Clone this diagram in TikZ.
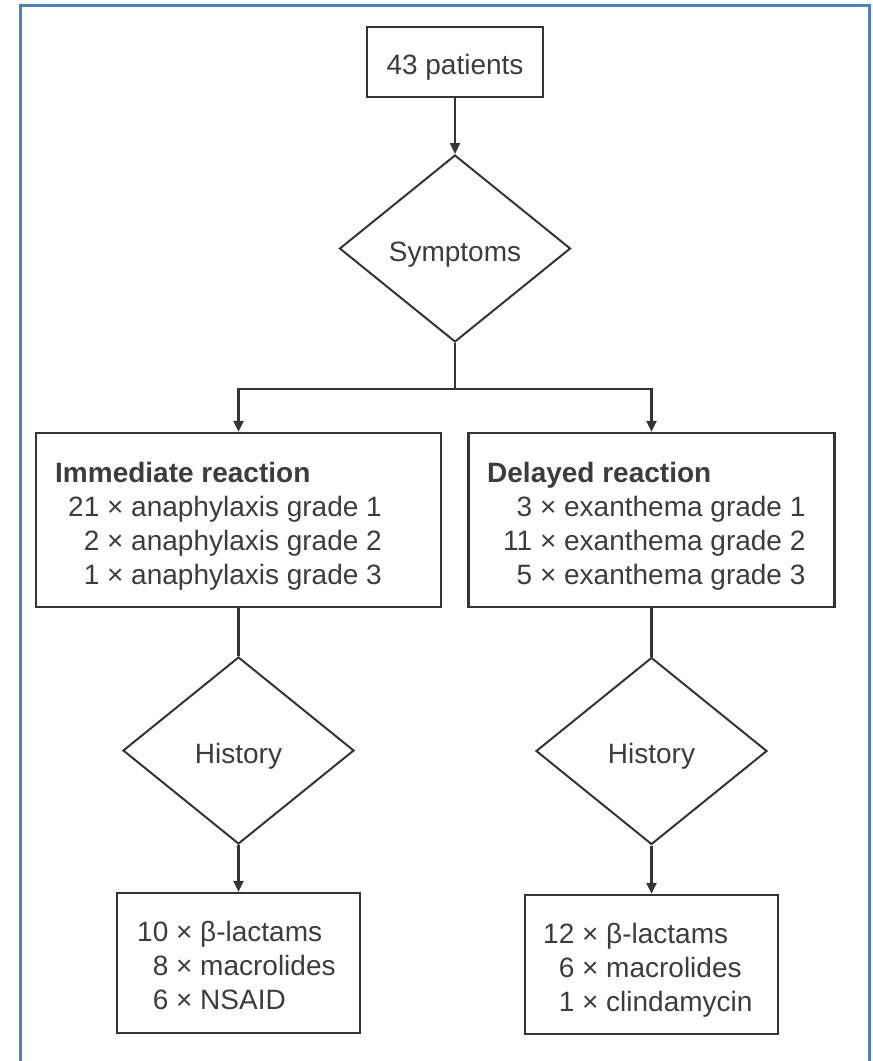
\documentclass[tikz,border=0pt]{standalone}
\usepackage{fontspec}
\setmainfont{Liberation Sans}
\usetikzlibrary{shapes.geometric,arrows.meta}
\definecolor{framecol}{RGB}{79,129,189}
\definecolor{ink}{RGB}{52,52,52}
\definecolor{textink}{RGB}{60,60,60}
\begin{document}
\begin{tikzpicture}[x=1pt,y=-1pt,
  every node/.style={font=\fontsize{28}{34}\selectfont, text=textink, inner sep=0pt},
  capcentred/.style={text height=25pt, text depth=0pt},
  box/.style={draw=ink, line width=2.2pt, rectangle},
  decision/.style={draw=ink, line width=2pt, diamond, capcentred,
                   minimum width=231pt, minimum height=187pt},
  link/.style={draw=ink, line width=2.2pt},
  arrowlink/.style={link, -{Triangle[length=11pt,width=10pt]}},
]
\useasboundingbox (0,0) rectangle (873,1061);
% outer frame (open at the bottom edge of the page)
\draw[framecol, line width=3pt] (20.5,1064) -- (20.5,5.5) -- (869,5.5) -- (869,1064);

% top of the chart
\node[box, capcentred, minimum width=176pt, minimum height=70pt] (patients) at (455,62) {43 patients};
\node[decision] (symptoms) at (455,248.5) {Symptoms};
\coordinate (split) at (455,389);

% reaction boxes
\node[box, minimum width=405pt, minimum height=174pt] (imm) at (238.5,520) {};
\node[anchor=west] (immtext) at (55,527) {%
  \begin{tabular}{@{\hspace{13pt}}r@{ × }l@{}}
    \multicolumn{2}{@{}l@{}}{\textbf{Immediate reaction}}\\
    21 & anaphylaxis grade 1\\
    2 & anaphylaxis grade 2\\
    1 & anaphylaxis grade 3
  \end{tabular}};
\node[box, minimum width=366pt, minimum height=174pt] (del) at (651.5,520) {};
\node[anchor=west] (deltext) at (487,527) {%
  \begin{tabular}{@{\hspace{16pt}}r@{ × }l@{}}
    \multicolumn{2}{@{}l@{}}{\textbf{Delayed reaction}}\\
    3 & exanthema grade 1\\
    11 & exanthema grade 2\\
    5 & exanthema grade 3
  \end{tabular}};

% history decisions
\node[decision] (histA) at (238.5,750.5) {History};
\node[decision] (histB) at (651.5,751) {History};

% drug groups
\node[box, minimum width=243pt, minimum height=140pt] (drugsA) at (238.5,963) {};
\node[anchor=west] (drugsAtext) at (137,968.5) {%
  \begin{tabular}{@{}r@{ ×\ }l@{}}
    10 & β-lactams\\
    8 & macrolides\\
    6 & NSAID
  \end{tabular}};
\node[box, minimum width=253pt, minimum height=139pt] (drugsB) at (651.5,964.5) {};
\node[anchor=west] (drugsBtext) at (543,970.5) {%
  \begin{tabular}{@{}r@{ ×\ }l@{}}
    12 & β-lactams\\
    6 & macrolides\\
    1 & clindamycin
  \end{tabular}};

% connectors
\draw[arrowlink] (patients.south) -- (symptoms.north);
\draw[link] (symptoms.south) -- (split);
\draw[arrowlink] (split) -| (imm.north);
\draw[arrowlink] (split) -| (del.north);
\draw[link] (imm.south) -- (histA.north);
\draw[link] (del.south) -- (histB.north);
\draw[arrowlink] (histA.south) -- (drugsA.north);
\draw[arrowlink] (histB.south) -- (drugsB.north);
\end{tikzpicture}
\end{document}
